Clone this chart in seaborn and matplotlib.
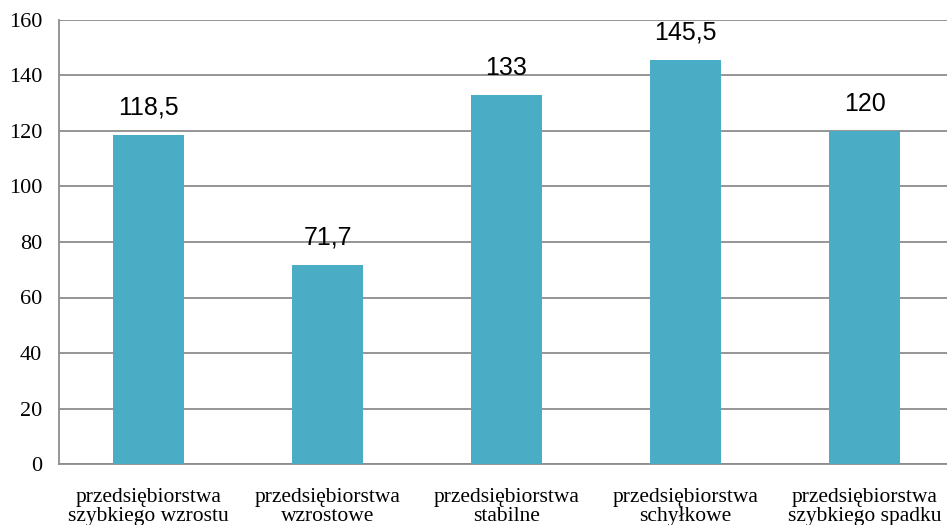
import numpy as np
import pandas as pd
import seaborn as sns
import matplotlib.pyplot as plt

categories = ["przedsiębiorstwa\nszybkiego wzrostu", "przedsiębiorstwa\nwzrostowe",
              "przedsiębiorstwa\nstabilne", "przedsiębiorstwa\nschyłkowe",
              "przedsiębiorstwa\nszybkiego spadku"]
values = [118.5, 71.7, 133, 145.5, 120]
labels = ["118,5", "71,7", "133", "145,5", "120"]

df = pd.DataFrame({"kategoria": categories, "wartosc": values})

sns.set_style("white")
fig = plt.figure(figsize=(9.47, 5.25), dpi=100)
ax = fig.add_axes([59/947, 61/525, 895/947, 444/525])

sns.barplot(data=df, x="kategoria", y="wartosc", color="#4BACC6", width=0.4,
            saturation=1, linewidth=0, ax=ax, zorder=3)

ax.set_ylim(0, 160)
ax.set_xlim(-0.5, 4.5)
ax.set_yticks(np.arange(0, 161, 20))
ax.yaxis.grid(True, color="#8c8c8c", linewidth=1.3, zorder=0)
ax.set_axisbelow(True)
ax.set_xlabel("")
ax.set_ylabel("")

for s in ["top", "right"]:
    ax.spines[s].set_visible(False)
for s in ["left", "bottom"]:
    ax.spines[s].set_color("#8c8c8c")
    ax.spines[s].set_linewidth(1.3)

ax.set_xticks(range(len(categories)))
ax.set_xticklabels(categories, family="Liberation Serif", fontsize=15.5,
                   linespacing=1.0, color="black")
ax.tick_params(axis="x", length=0, pad=17)
ax.set_xticks(np.arange(-0.5, 5, 1), minor=True)
ax.tick_params(axis="x", which="minor", length=6, width=1.3, color="#8c8c8c")
ax.tick_params(axis="y", length=6, width=1.3, color="#8c8c8c", pad=6, labelcolor="black")
for t in ax.get_yticklabels():
    t.set_family("Liberation Serif")
    t.set_fontsize(16)

for i, (v, lab) in enumerate(zip(values, labels)):
    ax.annotate(lab, (i, v), xytext=(0, 11), textcoords="offset points",
                ha="center", va="bottom", fontsize=18, family="Liberation Sans",
                color="black")

fig.savefig("out.png", dpi=100)
